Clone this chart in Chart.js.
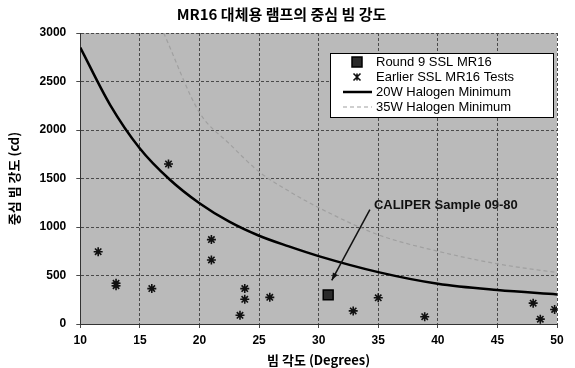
<!DOCTYPE html>
<html>
<head>
<meta charset="utf-8">
<script src="https://cdn.jsdelivr.net/npm/chart.js@4/dist/chart.umd.min.js"></script>
<style>
  html, body { margin: 0; padding: 0; background: #ffffff; }
  #wrap { width: 575px; height: 368px; position: relative; }
</style>
</head>
<body>
<div id="wrap"><canvas id="beam-chart"></canvas></div>
<script>
// 차트 데이터
const xTicks = [10, 15, 20, 25, 30, 35, 40, 45, 50];
const yTicks = [0, 500, 1000, 1500, 2000, 2500, 3000];

const round9Angle = [30.8];
const round9Intensity = [300];

const earlierAngle = [11.5, 13, 13, 16, 17.4, 21, 21, 23.4, 23.8, 23.8, 25.9, 32.9, 35, 38.9, 48, 48.6, 49.8];
const earlierIntensity = [745, 420, 395, 365, 1650, 870, 660, 90, 365, 255, 275, 135, 270, 75, 215, 50, 150];

const halogen20Angle = [10, 12.5, 15, 17.5, 20, 22.5, 25, 27.5, 30, 35, 40, 45, 50];
const halogen20Intensity = [2850, 2260, 1810, 1490, 1245, 1055, 910, 800, 700, 535, 415, 350, 305];

const halogen35Angle = [17, 20, 22.5, 25, 27.5, 30, 35, 40, 45, 50];
const halogen35Intensity = [3000, 2180, 1860, 1570, 1370, 1200, 920, 750, 620, 530];

const calloutText = 'CALIPER Sample 09-80';
const calloutFrom = { x: 34.3, y: 1180 };
const calloutTo = { x: 31.1, y: 450 };

function toPoints(xs, ys) {
    return xs.map((x, i) => ({ x: x, y: ys[i] }));
}

const plotBackground = {
    id: 'plotBackground',
    beforeDraw(chart) {
        const { ctx, chartArea: a } = chart;
        ctx.save();
        ctx.fillStyle = '#bababa';
        ctx.fillRect(a.left, a.top, a.right - a.left, a.bottom - a.top);
        ctx.restore();
    }
};

const callout = {
    id: 'callout',
    afterDatasetsDraw(chart) {
        const { ctx, scales } = chart;
        const x1 = scales.x.getPixelForValue(calloutFrom.x);
        const y1 = scales.y.getPixelForValue(calloutFrom.y);
        const x2 = scales.x.getPixelForValue(calloutTo.x);
        const y2 = scales.y.getPixelForValue(calloutTo.y);
        ctx.save();
        ctx.strokeStyle = '#111';
        ctx.fillStyle = '#111';
        ctx.lineWidth = 1.5;
        ctx.beginPath();
        ctx.moveTo(x1, y1);
        ctx.lineTo(x2, y2);
        ctx.stroke();
        const ang = Math.atan2(y2 - y1, x2 - x1);
        ctx.beginPath();
        ctx.moveTo(x2, y2);
        ctx.lineTo(x2 - 8 * Math.cos(ang - 0.35), y2 - 8 * Math.sin(ang - 0.35));
        ctx.lineTo(x2 - 8 * Math.cos(ang + 0.35), y2 - 8 * Math.sin(ang + 0.35));
        ctx.closePath();
        ctx.fill();
        ctx.font = 'bold 13px "Liberation Sans", Arial, sans-serif';
        ctx.textAlign = 'left';
        ctx.textBaseline = 'middle';
        ctx.fillText(calloutText, x1 + 4, y1 - 4);
        ctx.restore();
    }
};

// 범례 (플롯 안쪽 상자)
const boxLegend = {
    id: 'boxLegend',
    afterDraw(chart) {
        const { ctx } = chart;
        const left = 330, top = 53, w = 223, h = 64;
        ctx.save();
        ctx.fillStyle = '#ffffff';
        ctx.fillRect(left, top, w, h);
        ctx.strokeStyle = '#000';
        ctx.lineWidth = 1;
        ctx.strokeRect(left + 0.5, top + 0.5, w, h);
        ctx.font = '13px "Liberation Sans", Arial, sans-serif';
        ctx.textBaseline = 'middle';
        ctx.textAlign = 'left';
        chart.data.datasets.forEach((ds, i) => {
            const cy = top + 9 + i * 15;
            const cx = 357;
            if (ds.type === 'line') {
                ctx.strokeStyle = ds.borderColor;
                ctx.lineWidth = ds.borderWidth;
                ctx.setLineDash(ds.borderDash || []);
                ctx.beginPath();
                ctx.moveTo(343, cy);
                ctx.lineTo(372, cy);
                ctx.stroke();
                ctx.setLineDash([]);
            } else {
                ctx.fillStyle = ds.backgroundColor;
                ctx.strokeStyle = ds.borderColor;
                ctx.lineWidth = ds.borderWidth;
                if (ds.pointStyle === 'rect') {
                    const r = 5;
                    ctx.fillRect(cx - r, cy - r, 2 * r, 2 * r);
                    ctx.strokeRect(cx - r, cy - r, 2 * r, 2 * r);
                } else {
                    const r = 3.5;
                    ctx.beginPath();
                    ctx.moveTo(cx - r, cy - r); ctx.lineTo(cx + r, cy + r);
                    ctx.moveTo(cx + r, cy - r); ctx.lineTo(cx - r, cy + r);
                    ctx.moveTo(cx, cy - r); ctx.lineTo(cx, cy + r);
                    ctx.stroke();
                }
            }
            ctx.fillStyle = '#000';
            ctx.fillText(ds.label, 376, cy);
        });
        ctx.restore();
    }
};

const ctx = document.getElementById('beam-chart').getContext('2d');
new Chart(ctx, {
    data: {
        datasets: [{
            type: 'scatter',
            label: 'Round 9 SSL MR16',
            data: toPoints(round9Angle, round9Intensity),
            pointStyle: 'rect',
            pointRadius: 7,
            backgroundColor: '#2b2b2b',
            borderColor: '#000000',
            borderWidth: 1.5
        }, {
            type: 'scatter',
            label: 'Earlier SSL MR16 Tests',
            data: toPoints(earlierAngle, earlierIntensity),
            pointStyle: 'star',
            pointRadius: 4.5,
            backgroundColor: '#111111',
            borderColor: '#111111',
            borderWidth: 1.6
        }, {
            type: 'line',
            label: '20W Halogen Minimum',
            data: toPoints(halogen20Angle, halogen20Intensity),
            borderColor: '#000000',
            borderWidth: 2.5,
            pointRadius: 0,
            cubicInterpolationMode: 'monotone',
            fill: false
        }, {
            type: 'line',
            label: '35W Halogen Minimum',
            data: toPoints(halogen35Angle, halogen35Intensity),
            borderColor: '#a0a0a0',
            borderWidth: 1.2,
            borderDash: [4, 3],
            pointRadius: 0,
            cubicInterpolationMode: 'monotone',
            fill: false
        }]
    },
    options: {
        responsive: true,
        maintainAspectRatio: false,
        animation: false,
        layout: {
            padding: { left: 6, right: 18, top: 3, bottom: 0 }
        },
        plugins: {
            legend: { display: false },
            tooltip: { enabled: false },
            title: {
                display: true,
                text: 'MR16 대체용 램프의 중심 빔 강도',
                color: '#000',
                font: { family: '"Noto Sans CJK KR", sans-serif', size: 15, weight: 'bold' },
                padding: { top: 2, bottom: 10 }
            }
        },
        scales: {
            x: {
                type: 'linear',
                min: 10,
                max: 50,
                afterBuildTicks: axis => { axis.ticks = xTicks.map(v => ({ value: v })); },
                title: {
                    display: true,
                    text: '빔 각도 (Degrees)',
                    color: '#000',
                    font: { family: '"Noto Sans CJK KR", sans-serif', size: 13, weight: 'bold' },
                    padding: { top: 0, bottom: 0 }
                },
                ticks: {
                    color: '#000',
                    font: { family: '"Liberation Sans", Arial, sans-serif', size: 12, weight: 'bold' },
                    padding: 5,
                    maxRotation: 0,
                    callback: v => String(v)
                },
                grid: {
                    color: '#4a4a4a',
                    lineWidth: 1,
                    tickLength: 4
                },
                border: { display: true, color: '#333', dash: [3, 2] }
            },
            y: {
                min: 0,
                max: 3000,
                afterBuildTicks: axis => { axis.ticks = yTicks.map(v => ({ value: v })); },
                title: {
                    display: true,
                    text: '중심 빔 강도 (cd)',
                    color: '#000',
                    font: { family: '"Noto Sans CJK KR", sans-serif', size: 13, weight: 'bold' },
                    padding: { top: 0, bottom: 8 }
                },
                ticks: {
                    color: '#000',
                    font: { family: '"Liberation Sans", Arial, sans-serif', size: 12, weight: 'bold' },
                    padding: 10,
                    callback: v => String(v)
                },
                grid: {
                    color: '#4a4a4a',
                    lineWidth: 1,
                    tickLength: 4
                },
                border: { display: true, color: '#333', dash: [3, 2] }
            }
        }
    },
    plugins: [plotBackground, callout, boxLegend]
});
</script>
</body>
</html>
